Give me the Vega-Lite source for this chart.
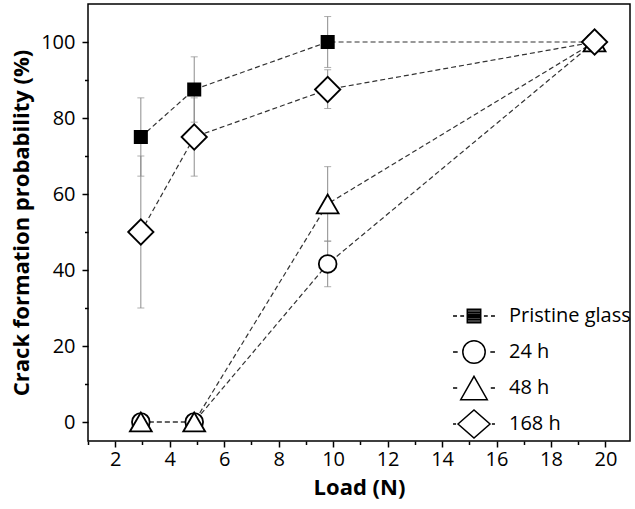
{
  "$schema": "https://vega.github.io/schema/vega-lite/v6.json",
  "width": 542,
  "height": 437,
  "autosize": "none",
  "padding": {"left": 88, "top": 4, "right": 5, "bottom": 68},
  "config": {
    "font": "Open Sans",
    "view": {"stroke": "black", "strokeWidth": 1.5},
    "axis": {
      "grid": false,
      "domain": false,
      "tickColor": "black",
      "tickWidth": 1.5,
      "labelColor": "black",
      "labelFont": "Open Sans",
      "labelFontSize": 20,
      "titleColor": "black",
      "titleFont": "Open Sans",
      "titleFontSize": 22,
      "titleFontWeight": "bold"
    }
  },
  "datasets": {
    "pts": [
      {"series": "Pristine glass", "load": 2.94, "p": 75},
      {"series": "Pristine glass", "load": 4.9, "p": 87.5},
      {"series": "Pristine glass", "load": 9.8, "p": 100},
      {"series": "Pristine glass", "load": 19.6, "p": 100},
      {"series": "24 h", "load": 2.94, "p": 0},
      {"series": "24 h", "load": 4.9, "p": 0},
      {"series": "24 h", "load": 9.8, "p": 41.6},
      {"series": "24 h", "load": 19.6, "p": 100},
      {"series": "48 h", "load": 2.94, "p": 0},
      {"series": "48 h", "load": 4.9, "p": 0},
      {"series": "48 h", "load": 9.8, "p": 57.4},
      {"series": "48 h", "load": 19.6, "p": 100},
      {"series": "168 h", "load": 2.94, "p": 50},
      {"series": "168 h", "load": 4.9, "p": 75},
      {"series": "168 h", "load": 9.8, "p": 87.5},
      {"series": "168 h", "load": 19.6, "p": 100}
    ],
    "err": [
      {"series": "Pristine glass", "load": 2.94, "lo": 64.7, "hi": 85.3},
      {"series": "Pristine glass", "load": 4.9, "lo": 78.9, "hi": 96.1},
      {"series": "Pristine glass", "load": 9.8, "lo": 93.3, "hi": 106.7},
      {"series": "24 h", "load": 9.8, "lo": 35.6, "hi": 47.6},
      {"series": "48 h", "load": 9.8, "lo": 47.6, "hi": 67.2},
      {"series": "168 h", "load": 2.94, "lo": 30, "hi": 70},
      {"series": "168 h", "load": 4.9, "lo": 64.7, "hi": 85.3},
      {"series": "168 h", "load": 9.8, "lo": 82.5, "hi": 92.7}
    ]
  },
  "resolve": {
    "scale": {"shape": "independent"},
    "axis": {"x": "independent", "y": "independent"}
  },
  "layer": [
    {
      "data": {"name": "err"},
      "mark": {"type": "rule", "color": "#8c8c8c", "strokeWidth": 1},
      "encoding": {
        "x": {
          "field": "load", "type": "quantitative",
          "scale": {"domain": [1, 20.9], "nice": false, "zero": false},
          "axis": {"orient": "bottom", "values": [2, 4, 6, 8, 10, 12, 14, 16, 18, 20], "tickSize": 6, "labelPadding": 2, "title": "Load (N)", "titlePadding": 8}
        },
        "y": {
          "field": "lo", "type": "quantitative",
          "scale": {"domain": [-5, 110], "nice": false, "zero": false},
          "axis": {"orient": "left", "values": [0, 20, 40, 60, 80, 100], "tickSize": 6, "labelPadding": 7, "title": "Crack formation probability (%)", "titlePadding": 7}
        },
        "y2": {"field": "hi"}
      }
    },
    {
      "data": {"name": "err"},
      "mark": {"type": "tick", "orient": "horizontal", "color": "#8c8c8c", "size": 7, "thickness": 1},
      "encoding": {
        "x": {"field": "load", "type": "quantitative", "axis": null},
        "y": {"field": "lo", "type": "quantitative", "axis": null}
      }
    },
    {
      "data": {"name": "err"},
      "mark": {"type": "tick", "orient": "horizontal", "color": "#8c8c8c", "size": 7, "thickness": 1},
      "encoding": {
        "x": {"field": "load", "type": "quantitative", "axis": null},
        "y": {"field": "hi", "type": "quantitative", "axis": null}
      }
    },
    {
      "data": {"name": "pts"},
      "mark": {"type": "line", "color": "#333333", "strokeWidth": 1.2, "strokeDash": [5, 3]},
      "encoding": {
        "x": {"field": "load", "type": "quantitative", "axis": null},
        "y": {"field": "p", "type": "quantitative", "axis": null},
        "detail": {"field": "series"}
      }
    },
    {
      "data": {"name": "pts"},
      "mark": {"type": "point", "filled": true, "stroke": "black", "strokeWidth": 1.8, "opacity": 1},
      "encoding": {
        "x": {"field": "load", "type": "quantitative", "axis": null},
        "y": {"field": "p", "type": "quantitative", "axis": null},
        "shape": {
          "field": "series", "type": "nominal", "legend": null,
          "scale": {"domain": ["Pristine glass", "24 h", "48 h", "168 h"], "range": ["square", "circle", "triangle-up", "diamond"]}
        },
        "size": {
          "field": "series", "type": "nominal", "legend": null,
          "scale": {"domain": ["Pristine glass", "24 h", "48 h", "168 h"], "range": [150, 640, 900, 940]}
        },
        "fill": {
          "field": "series", "type": "nominal", "legend": null,
          "scale": {"domain": ["Pristine glass", "24 h", "48 h", "168 h"], "range": ["black", "white", "white", "white"]}
        }
      }
    },
    {
      "data": {"name": "pts"},
      "mark": {"type": "point", "filled": false, "stroke": "black", "strokeWidth": 1.5, "opacity": 0},
      "encoding": {
        "x": {"field": "load", "type": "quantitative", "axis": null},
        "y": {"field": "p", "type": "quantitative", "axis": null},
        "shape": {
          "field": "series", "type": "nominal",
          "scale": {
            "domain": ["Pristine glass", "24 h", "48 h", "168 h"],
            "range": [
              "M0,-0.88L0,-0.88M0,0.88L0,0.88M-1.31,0H-1.06M-0.86,0H-0.62M0.62,0H0.86M1.06,0H1.31M-0.42,-0.42H0.42V0.42H-0.42ZM-0.42,-0.32H0.42M-0.42,-0.21H0.42M-0.42,-0.1H0.42M-0.42,0H0.42M-0.42,0.1H0.42M-0.42,0.21H0.42M-0.42,0.32H0.42",
              "M0,-0.88L0,-0.88M0,0.88L0,0.88M-1.31,0H-1.02M1.02,0H1.31M-0.7,0A0.7,0.7,0,1,1,0.7,0A0.7,0.7,0,1,1,-0.7,0Z",
              "M0,-0.88L0,-0.88M0,0.88L0,0.88M-1.31,0H-1.05M1.05,0H1.31M0,-0.73L0.83,0.73L-0.83,0.73Z",
              "M-1.31,0H-1.12M1.12,0H1.31M-1.0,0L0,-0.88L1.0,0L0,0.88Z"
            ]
          },
          "legend": {
            "title": null,
            "orient": "bottom-right",
            "offset": -1,
            "padding": 0,
            "symbolSize": 1024,
            "symbolStrokeWidth": 1.5,
            "symbolStrokeColor": "black",
            "symbolFillColor": "white",
            "symbolOpacity": 1,
            "labelFont": "Open Sans",
            "labelFontSize": 20,
            "labelColor": "black",
            "labelOffset": 18,
            "rowPadding": 0
          }
        }
      }
    },
    {
      "data": {"name": "err"},
      "mark": {"type": "rule", "opacity": 0},
      "encoding": {
        "x": {
          "field": "load", "type": "quantitative",
          "axis": {"orient": "bottom", "values": [1, 3, 5, 7, 9, 11, 13, 15, 17, 19], "tickSize": 3.5, "labels": false, "title": null}
        },
        "y": {
          "field": "lo", "type": "quantitative",
          "axis": {"orient": "left", "values": [10, 30, 50, 70, 90], "tickSize": 3.5, "labels": false, "title": null}
        }
      }
    }
  ]
}
